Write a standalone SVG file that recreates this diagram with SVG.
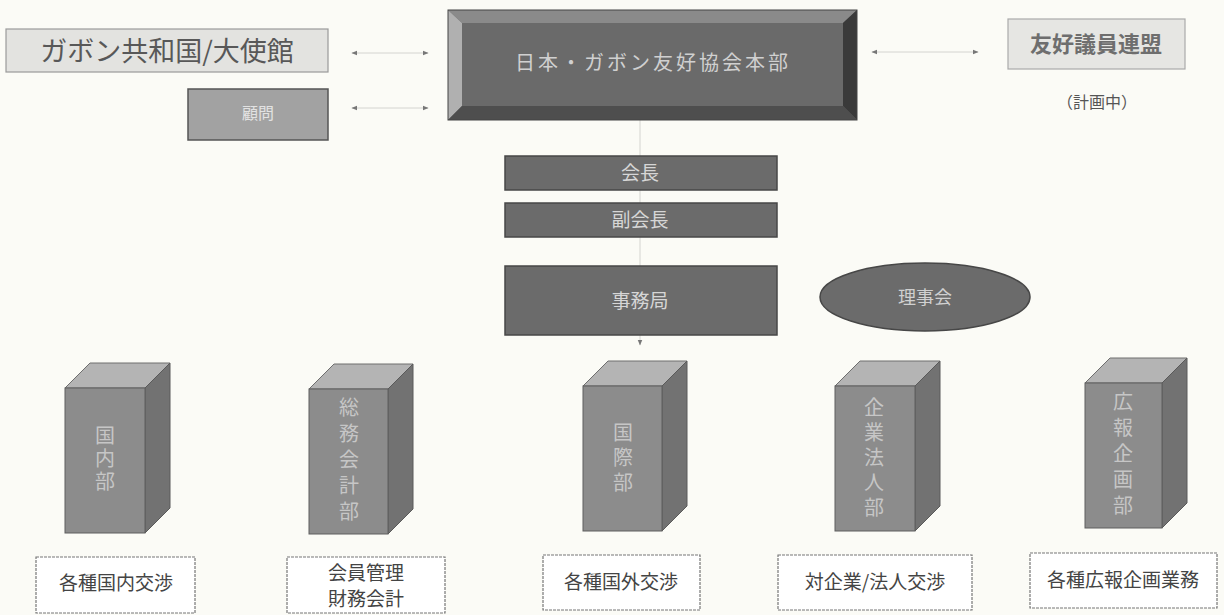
<svg xmlns="http://www.w3.org/2000/svg" width="1224" height="615" viewBox="0 0 1224 615">
<defs>
<style>
.jp{font-family:"Noto Sans CJK JP","Noto Sans",sans-serif;}
.bar{fill:#6b6b6b;stroke:#474747;stroke-width:1.5;}
.bartxt{fill:#d6d6d6;font-size:19px;text-anchor:middle;}
.front{fill:#8c8c8c;stroke:#5e5e5e;stroke-width:1;}
.top{fill:#b4b4b4;stroke:#6e6e6e;stroke-width:1;}
.side{fill:#727272;stroke:#5a5a5a;stroke-width:1;}
.vt{fill:#c6c6c6;font-size:20px;text-anchor:middle;writing-mode:vertical-rl;}
.lbl{fill:#ffffff;stroke:#777;stroke-width:1.2;stroke-dasharray:3 1;}
.lbltxt{fill:#444;font-size:19px;text-anchor:middle;}
.conn{stroke:#d4d4d0;stroke-width:1;fill:none;}
</style>
<marker id="ah" viewBox="0 0 10 10" refX="9" refY="5" markerWidth="6" markerHeight="6" orient="auto-start-reverse">
<path d="M0,1 L10,5 L0,9 z" fill="#777"/>
</marker>
</defs>
<rect width="1224" height="615" fill="#fbfbf6"/>

<g id="connectors">
<line class="conn" x1="352" y1="53" x2="428" y2="53" marker-start="url(#ah)" marker-end="url(#ah)"/>
<line class="conn" x1="352" y1="108" x2="428" y2="108" marker-start="url(#ah)" marker-end="url(#ah)"/>
<line class="conn" x1="872" y1="52" x2="978" y2="52" marker-start="url(#ah)" marker-end="url(#ah)"/>
<line class="conn" x1="640" y1="120" x2="640" y2="156"/>
<line class="conn" x1="640" y1="190" x2="640" y2="203"/>
<line class="conn" x1="640" y1="237" x2="640" y2="266"/>
<line class="conn" x1="640" y1="335" x2="640" y2="345" marker-end="url(#ah)"/>
</g>

<g id="gabon-embassy">
<rect x="6" y="29" width="322" height="43" fill="#e3e3e0" stroke="#9a9a9a" stroke-width="1.2"/>
<text class="jp" x="167" y="61" font-size="27" fill="#585858" text-anchor="middle">ガボン共和国/大使館</text>
</g>

<g id="advisor">
<rect x="188" y="89" width="140" height="51" fill="#a2a2a2" stroke="#555" stroke-width="1.5"/>
<text class="jp" x="258" y="119" font-size="16" fill="#e2e2e2" text-anchor="middle">顧問</text>
</g>

<g id="headquarters">
<rect x="448" y="10" width="409" height="110" fill="#5a5a5a"/>
<polygon points="448,10 857,10 843,23 462,23" fill="#8a8a8a"/>
<polygon points="448,10 462,23 462,106 448,120" fill="#b0b0b0"/>
<polygon points="857,10 857,120 843,106 843,23" fill="#3a3a3a"/>
<polygon points="448,120 462,106 843,106 857,120" fill="#4e4e4e"/>
<rect x="462" y="23" width="381" height="83" fill="#6a6a6a"/>
<rect x="448" y="10" width="409" height="110" fill="none" stroke="#444" stroke-width="1"/>
<text class="jp" x="653" y="70" font-size="20" fill="#d0d0d0" text-anchor="middle" letter-spacing="3">日本・ガボン友好協会本部</text>
</g>

<g id="friendship-league">
<rect x="1008" y="19" width="177" height="50" fill="#e6e6e3" stroke="#aaa" stroke-width="1.2"/>
<text class="jp" x="1096" y="52" font-size="22" font-weight="bold" fill="#6e6e6e" text-anchor="middle">友好議員連盟</text>
<text class="jp" x="1097" y="108" font-size="16" fill="#555" text-anchor="middle">（計画中）</text>
</g>

<g id="president">
<rect class="bar" x="505" y="156" width="272" height="34"/>
<text class="jp bartxt" x="640" y="180">会長</text>
</g>
<g id="vice-president">
<rect class="bar" x="505" y="203" width="272" height="34"/>
<text class="jp bartxt" x="640" y="227">副会長</text>
</g>
<g id="secretariat">
<rect class="bar" x="505" y="266" width="272" height="69"/>
<text class="jp bartxt" x="640" y="308">事務局</text>
</g>

<g id="board">
<ellipse cx="925" cy="297" rx="105" ry="34" fill="#6b6b6b" stroke="#474747" stroke-width="1.5"/>
<text class="jp" x="925" y="304" font-size="18" fill="#d0d0d0" text-anchor="middle">理事会</text>
</g>

<g id="domestic-dept">
<polygon class="top" points="65,388 90,363 170,363 145,388"/>
<polygon class="side" points="145,388 170,363 170,508 145,533"/>
<rect class="front" x="65" y="388" width="80" height="145"/>
<text class="jp vt" x="105" y="460" letter-spacing="3">国内部</text>
</g>

<g id="general-affairs-dept">
<polygon class="top" points="309,389 334,364 413,364 388,389"/>
<polygon class="side" points="388,389 413,364 413,509 388,534"/>
<rect class="front" x="309" y="389" width="79" height="145"/>
<text class="jp vt" x="349" y="462" letter-spacing="6">総務会計部</text>
</g>

<g id="international-dept">
<polygon class="top" points="583,386 608,361 687,361 662,386"/>
<polygon class="side" points="662,386 687,361 687,506 662,531"/>
<rect class="front" x="583" y="386" width="79" height="145"/>
<text class="jp vt" x="623" y="460" letter-spacing="5">国際部</text>
</g>

<g id="corporate-dept">
<polygon class="top" points="835,386 860,361 940,361 915,386"/>
<polygon class="side" points="915,386 940,361 940,506 915,531"/>
<rect class="front" x="835" y="386" width="80" height="145"/>
<text class="jp vt" x="874" y="460" letter-spacing="5">企業法人部</text>
</g>

<g id="pr-dept">
<polygon class="top" points="1085,383 1110,358 1187,358 1162,383"/>
<polygon class="side" points="1162,383 1187,358 1187,503 1162,528"/>
<rect class="front" x="1085" y="383" width="77" height="145"/>
<text class="jp vt" x="1123" y="456" letter-spacing="6">広報企画部</text>
</g>

<g id="label-domestic">
<rect class="lbl" x="36" y="557" width="159" height="56"/>
<text class="jp lbltxt" x="116" y="590">各種国内交渉</text>
</g>
<g id="label-general">
<rect class="lbl" x="287" y="557" width="158" height="56"/>
<text class="jp lbltxt" x="366" y="580">会員管理</text>
<text class="jp lbltxt" x="366" y="606">財務会計</text>
</g>
<g id="label-international">
<rect class="lbl" x="543" y="555" width="157" height="55"/>
<text class="jp lbltxt" x="621" y="589">各種国外交渉</text>
</g>
<g id="label-corporate">
<rect class="lbl" x="778" y="555" width="194" height="55"/>
<text class="jp lbltxt" x="875" y="589">対企業/法人交渉</text>
</g>
<g id="label-pr">
<rect class="lbl" x="1030" y="553" width="187" height="55"/>
<text class="jp lbltxt" x="1123" y="587">各種広報企画業務</text>
</g>
</svg>
